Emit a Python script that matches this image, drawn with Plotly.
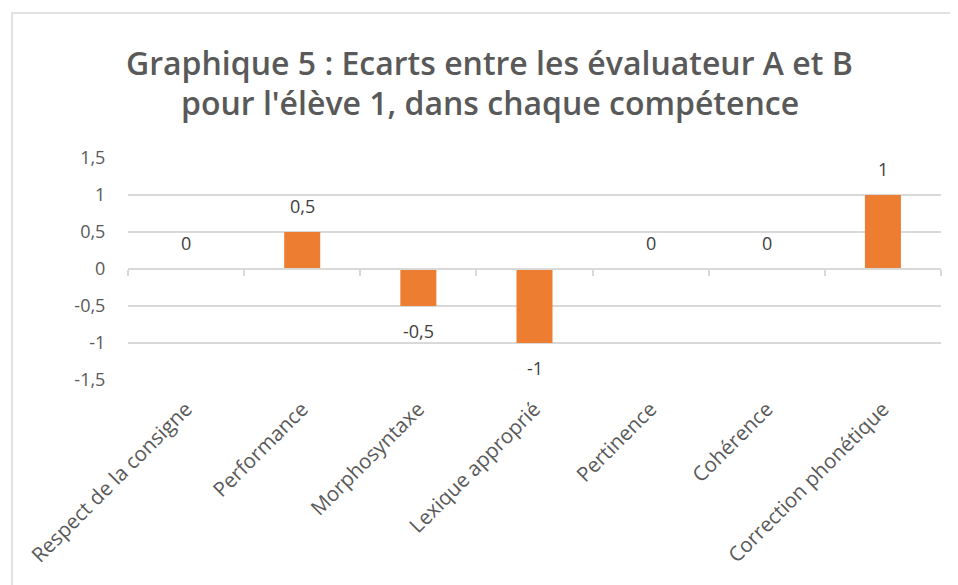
import plotly.graph_objects as go

categories = ["Respect de la consigne", "Performance", "Morphosyntaxe",
              "Lexique approprié", "Pertinence", "Cohérence", "Correction phonétique"]
ecarts = [0, 0.5, -0.5, -1, 0, 0, 1]
y_ticks = [-1.5, -1, -0.5, 0, 0.5, 1, 1.5]
y_tick_labels = ["-1,5", "-1", "-0,5", "0", "0,5", "1", "1,5"]
title_lines = ["Graphique 5 : Ecarts entre les évaluateur A et B",
               "pour l'élève 1, dans chaque compétence"]

def fmt(v):
    return ("%g" % v).replace(".", ",")

FONT = "'Open Sans', sans-serif"
GRID = "#D9D9D9"
TXT = "#595959"

fig = go.Figure()
fig.add_trace(go.Bar(x=categories, y=ecarts, marker=dict(color="#ED7D31", line=dict(width=0)),
                     width=0.31, hoverinfo="x+y"))
# overlay axis for boundary tick marks at zero line
fig.add_trace(go.Bar(x=categories, y=[0]*len(categories), xaxis="x2", yaxis="y",
                     showlegend=False, hoverinfo="skip", marker=dict(color="rgba(0,0,0,0)")))

for c, v in zip(categories, ecarts):
    fig.add_annotation(x=c, y=v, text=fmt(v), showarrow=False,
                       yanchor="middle", yshift=26 if v >= 0 else -25,
                       font=dict(family=FONT, size=18, color="#404040"))

for line, ypos in zip(title_lines, [1.432, 1.252]):
    fig.add_annotation(text=line, xref="paper", yref="paper", x=0.445, y=ypos,
                       xanchor="center", yanchor="middle", showarrow=False,
                       font=dict(family=FONT, size=32, color=TXT, weight=600))

fig.update_layout(
    width=958, height=585,
    margin=dict(l=120, r=25, t=150, b=213),
    paper_bgcolor="white", plot_bgcolor="white",
    showlegend=False,
    xaxis=dict(type="category", categoryarray=categories, range=[-0.5, 6.5],
               tickangle=-45, showgrid=False, showline=False, zeroline=False,
               tickfont=dict(family=FONT, size=20.5, color=TXT),
               ticks="outside", ticklen=8, tickcolor="rgba(0,0,0,0)"),
    xaxis2=dict(type="category", categoryarray=categories, range=[-0.5, 6.5],
                overlaying="x", anchor="free", position=0.5, side="bottom",
                showticklabels=False, ticks="outside", tickson="boundaries",
                ticklen=6, tickcolor=GRID, tickwidth=1.5, showline=True,
                linecolor=GRID, linewidth=1.5, showgrid=False),
    yaxis=dict(range=[-1.5, 1.5], tickvals=y_ticks, ticktext=y_tick_labels,
               showgrid=True, gridcolor=GRID, gridwidth=1.5, zeroline=False,
               ticks="outside", ticklen=18, tickcolor="rgba(0,0,0,0)",
               tickfont=dict(family=FONT, size=18, color=TXT), domain=[0, 1]),
    bargap=0.69,
)
fig.add_shape(type="rect", xref="paper", yref="paper",
              x0=-0.1427, x1=1.2, y0=-1.5, y1=1.653,
              line=dict(color="#D9D9D9", width=1.5), fillcolor="rgba(0,0,0,0)", layer="below")

fig.write_html("out.html")
